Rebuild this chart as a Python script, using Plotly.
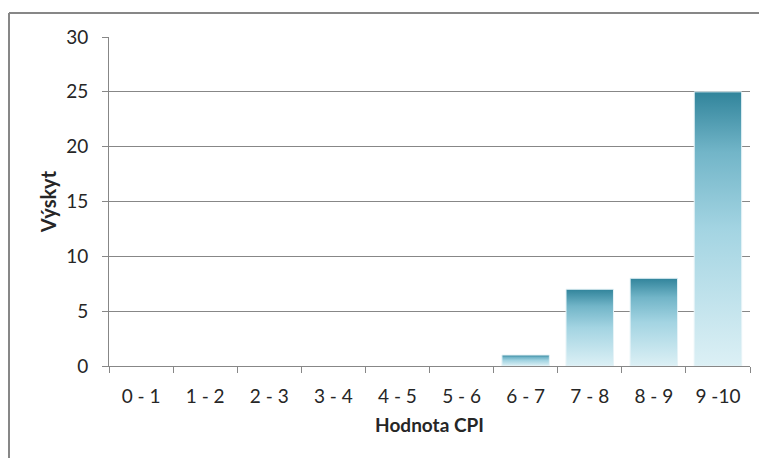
import plotly.graph_objects as go

categories = ["0 - 1", "1 - 2", "2 - 3", "3 - 4", "4 - 5", "5 - 6", "6 - 7", "7 - 8", "8 - 9", "9 -10"]
values = [0, 0, 0, 0, 0, 0, 1, 7, 8, 25]
y_ticks = [0, 5, 10, 15, 20, 25, 30]

FONT = "Lato"
GRAY = "#878787"
TXT = "#262626"
half = 0.37
scale = [[0.0, "#dcf0f5"], [0.5, "#a3d4e2"], [0.78, "#72b5c8"], [1.0, "#31849b"]]

fig = go.Figure()
for i, (cat, v) in enumerate(zip(categories, values)):
    if v <= 0:
        continue
    fig.add_trace(go.Scatter(
        x=[i - half, i + half, i + half, i - half, i - half],
        y=[0, 0, v, v, 0],
        mode="lines",
        fill="toself",
        fillgradient=dict(type="vertical", colorscale=scale, start=0, stop=v),
        line=dict(color="#e6f3f7", width=1),
        name=cat,
        hoverinfo="skip",
        showlegend=False,
    ))

fig.update_layout(
    width=759, height=458,
    margin=dict(l=109, r=9, t=37, b=92),
    paper_bgcolor="white", plot_bgcolor="white",
    font=dict(family=FONT, size=19, color=TXT),
    showlegend=False,
    xaxis=dict(
        range=[-0.5, len(categories) - 0.5],
        tickmode="array",
        tickvals=list(range(len(categories))),
        ticktext=categories,
        ticks="",
        ticklen=0,
        ticklabelstandoff=13,
        showgrid=False,
        zeroline=False,
        showline=True, linecolor=GRAY, linewidth=1,
        minor=dict(tickmode="array", tickvals=[i - 0.5 for i in range(len(categories) + 1)],
                   ticks="outside", ticklen=6, tickcolor=GRAY, tickwidth=1, showgrid=False),
        title=dict(text="<b>Hodnota CPI</b>", font=dict(size=19, family=FONT, color=TXT), standoff=12),
        automargin=False,
        fixedrange=True,
    ),
    yaxis=dict(
        range=[0, 30],
        tickmode="array",
        tickvals=y_ticks,
        ticks="outside", ticklen=6, tickcolor=GRAY,
        ticklabelstandoff=10,
        showgrid=True, gridcolor=GRAY, gridwidth=1,
        zeroline=False,
        showline=True, linecolor=GRAY, linewidth=1,
        title=dict(text="<b>Výskyt</b>", font=dict(size=20, family=FONT, color=TXT), standoff=4),
        automargin=False,
        fixedrange=True,
    ),
)

# outer chart frame (extends beyond the visible area on the right and bottom)
fig.add_shape(type="line", xref="paper", yref="paper",
              x0=-100 / 641, x1=1.1, y0=353 / 329, y1=353 / 329,
              line=dict(color=GRAY, width=2))
fig.add_shape(type="line", xref="paper", yref="paper",
              x0=-100 / 641, x1=-100 / 641, y0=353 / 329, y1=-0.4,
              line=dict(color=GRAY, width=2))

fig.write_html("out.html", config={"displayModeBar": False},
               post_script="document.body.style.margin='0';document.body.style.overflow='hidden';")
